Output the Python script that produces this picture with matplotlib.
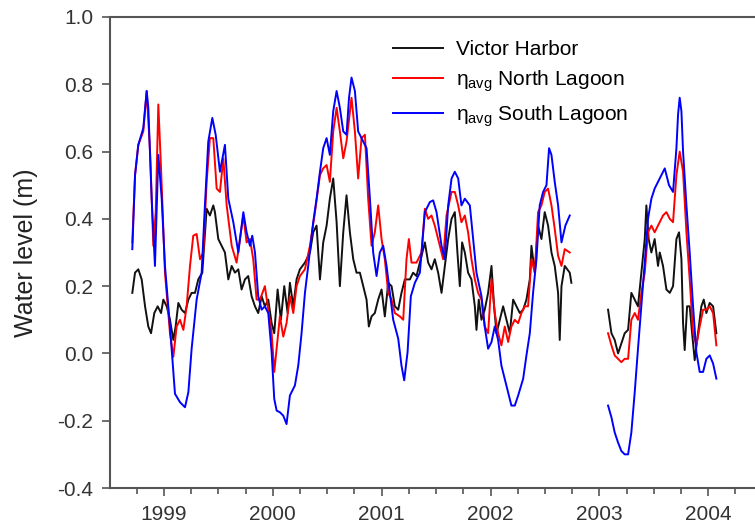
import numpy as np
import matplotlib
matplotlib.use("Agg")
import matplotlib.pyplot as plt
from matplotlib.ticker import MultipleLocator, FormatStrFormatter

plt.rcParams['font.family'] = ['Liberation Sans', 'DejaVu Sans']
plt.rcParams['mathtext.fontset'] = 'custom'
plt.rcParams['mathtext.rm'] = 'Liberation Sans'
plt.rcParams['mathtext.it'] = 'Liberation Sans'

nan = np.nan

# Victor Harbor (decimal year, water level in m)
vh_t = [1998.709, 1998.734, 1998.764, 1998.795, 1998.826, 1998.856, 1998.881, 1998.911, 1998.942, 1998.973,
        1998.994, 1999.025, 1999.055, 1999.086, 1999.107, 1999.132, 1999.162, 1999.193, 1999.224, 1999.254,
        1999.285, 1999.315, 1999.352, 1999.392, 1999.422, 1999.453, 1999.468, 1999.499, 1999.530, 1999.560,
        1999.591, 1999.622, 1999.652, 1999.683, 1999.713, 1999.744, 1999.774, 1999.805, 1999.836, 1999.866,
        1999.897, 1999.927, 1999.958, 1999.989, 2000.013, 2000.044, 2000.074, 2000.105, 2000.136, 2000.157,
        2000.188, 2000.218, 2000.249, 2000.295, 2000.341, 2000.371, 2000.402, 2000.433, 2000.463, 2000.494,
        2000.524, 2000.555, 2000.586, 2000.616, 2000.647, 2000.677, 2000.708, 2000.739, 2000.769, 2000.800,
        2000.830, 2000.861, 2000.882, 2000.907, 2000.937, 2000.968, 2000.999, 2001.029, 2001.060, 2001.091,
        2001.121, 2001.152, 2001.182, 2001.213, 2001.259, 2001.289, 2001.320, 2001.366, 2001.397, 2001.427,
        2001.458, 2001.488, 2001.519, 2001.550, 2001.580, 2001.611, 2001.642, 2001.672, 2001.696, 2001.718,
        2001.739, 2001.764, 2001.794, 2001.825, 2001.856, 2001.871, 2001.892, 2001.917, 2001.947, 2001.978,
        2002.009, 2002.033, 2002.055, 2002.085, 2002.116, 2002.146, 2002.177, 2002.208, 2002.238, 2002.269,
        2002.300, 2002.330, 2002.361, 2002.376, 2002.407, 2002.437, 2002.468, 2002.498, 2002.529, 2002.560,
        2002.590, 2002.621, 2002.636, 2002.652, 2002.682, 2002.728, 2002.743,
        2002.9,
        2003.080, 2003.111, 2003.141, 2003.172, 2003.202, 2003.233, 2003.264, 2003.294, 2003.325, 2003.355,
        2003.386, 2003.417, 2003.432, 2003.453, 2003.478, 2003.508, 2003.539, 2003.555, 2003.585, 2003.616,
        2003.647, 2003.677, 2003.708, 2003.732, 2003.754, 2003.769, 2003.784, 2003.806, 2003.830, 2003.852,
        2003.876, 2003.907, 2003.937, 2003.959, 2003.983, 2004.014, 2004.045, 2004.075]
vh_v = [0.18, 0.24, 0.25, 0.22, 0.14, 0.08, 0.06, 0.12, 0.14, 0.12,
        0.16, 0.14, 0.10, 0.04, 0.08, 0.15, 0.13, 0.12, 0.16, 0.18,
        0.18, 0.22, 0.24, 0.43, 0.41, 0.44, 0.42, 0.34, 0.32, 0.30,
        0.22, 0.26, 0.24, 0.25, 0.19, 0.22, 0.23, 0.17, 0.14, 0.12,
        0.17, 0.14, 0.16, 0.09, 0.06, 0.19, 0.10, 0.20, 0.12, 0.21,
        0.14, 0.22, 0.25, 0.27, 0.30, 0.36, 0.38, 0.22, 0.33, 0.38,
        0.46, 0.52, 0.39, 0.20, 0.36, 0.47, 0.36, 0.28, 0.24, 0.24,
        0.20, 0.16, 0.08, 0.11, 0.12, 0.16, 0.19, 0.11, 0.21, 0.20,
        0.14, 0.13, 0.18, 0.22, 0.22, 0.24, 0.23, 0.29, 0.33, 0.27,
        0.25, 0.28, 0.24, 0.18, 0.26, 0.34, 0.40, 0.42, 0.30, 0.20,
        0.33, 0.30, 0.24, 0.22, 0.14, 0.07, 0.16, 0.10, 0.13, 0.18,
        0.26, 0.14, 0.06, 0.10, 0.14, 0.10, 0.06, 0.16, 0.14, 0.12,
        0.13, 0.16, 0.22, 0.32, 0.24, 0.38, 0.34, 0.42, 0.38, 0.30,
        0.26, 0.18, 0.04, 0.20, 0.26, 0.24, 0.21,
        nan,
        0.13, 0.06, 0.04, 0.00, 0.03, 0.06, 0.07, 0.18, 0.16, 0.14,
        0.24, 0.34, 0.44, 0.34, 0.30, 0.34, 0.26, 0.30, 0.26, 0.19,
        0.18, 0.20, 0.34, 0.36, 0.28, 0.09, 0.01, 0.14, 0.14, 0.06,
        -0.02, 0.06, 0.14, 0.16, 0.12, 0.15, 0.14, 0.06]

# eta_avg North Lagoon
nl_t = [1998.709, 1998.734, 1998.764, 1998.810, 1998.841, 1998.872, 1998.902, 1998.924, 1998.948, 1998.973,
        1999.009, 1999.055, 1999.086, 1999.116, 1999.147, 1999.178, 1999.208, 1999.239, 1999.269, 1999.300,
        1999.331, 1999.361, 1999.392, 1999.422, 1999.453, 1999.484, 1999.514, 1999.545, 1999.576, 1999.622,
        1999.667, 1999.729, 1999.759, 1999.790, 1999.820, 1999.851, 1999.882, 1999.927, 1999.958, 1999.989,
        2000.013, 2000.035, 2000.065, 2000.096, 2000.126, 2000.157, 2000.188, 2000.218, 2000.249, 2000.295,
        2000.341, 2000.387, 2000.433, 2000.463, 2000.494, 2000.524, 2000.555, 2000.586, 2000.616, 2000.647,
        2000.677, 2000.723, 2000.754, 2000.784, 2000.815, 2000.846, 2000.876, 2000.907, 2000.937, 2000.968,
        2000.999, 2001.029, 2001.060, 2001.091, 2001.121, 2001.167, 2001.198, 2001.228, 2001.250, 2001.274,
        2001.320, 2001.366, 2001.397, 2001.427, 2001.458, 2001.488, 2001.534, 2001.565, 2001.596, 2001.642,
        2001.672, 2001.703, 2001.733, 2001.764, 2001.794, 2001.825, 2001.856, 2001.886, 2001.917, 2001.947,
        2001.978, 2002.009, 2002.039, 2002.070, 2002.100, 2002.131, 2002.162, 2002.192, 2002.223, 2002.254,
        2002.284, 2002.315, 2002.345, 2002.376, 2002.407, 2002.437, 2002.468, 2002.498, 2002.529, 2002.560,
        2002.590, 2002.621, 2002.652, 2002.682, 2002.728,
        2002.9,
        2003.080, 2003.111, 2003.141, 2003.172, 2003.202, 2003.233, 2003.264, 2003.294, 2003.325, 2003.355,
        2003.386, 2003.417, 2003.447, 2003.478, 2003.508, 2003.554, 2003.585, 2003.616, 2003.647, 2003.677,
        2003.708, 2003.738, 2003.769, 2003.800, 2003.830, 2003.861, 2003.891, 2003.922, 2003.953, 2003.983,
        2004.014, 2004.045, 2004.075]
nl_v = [0.33, 0.53, 0.62, 0.66, 0.78, 0.60, 0.32, 0.42, 0.74, 0.55,
        0.24, 0.06, -0.01, 0.08, 0.10, 0.07, 0.14, 0.26, 0.35, 0.355,
        0.28, 0.30, 0.51, 0.64, 0.64, 0.49, 0.48, 0.58, 0.44, 0.32,
        0.27, 0.41, 0.33, 0.34, 0.28, 0.16, 0.16, 0.20, 0.13, 0.06,
        -0.055, 0.014, 0.11, 0.05, 0.09, 0.17, 0.12, 0.20, 0.23, 0.25,
        0.32, 0.42, 0.53, 0.55, 0.56, 0.51, 0.66, 0.73, 0.66, 0.58,
        0.63, 0.76, 0.66, 0.52, 0.64, 0.65, 0.46, 0.32, 0.36, 0.44,
        0.34, 0.28, 0.18, 0.16, 0.12, 0.11, 0.10, 0.28, 0.34, 0.27,
        0.27, 0.30, 0.43, 0.40, 0.41, 0.38, 0.32, 0.28, 0.41, 0.48,
        0.48, 0.44, 0.39, 0.41, 0.36, 0.28, 0.22, 0.18, 0.16, 0.08,
        0.06, 0.22, 0.12, 0.06, 0.024, 0.08, 0.034, 0.08, 0.10, 0.09,
        0.12, 0.14, 0.14, 0.28, 0.24, 0.42, 0.44, 0.48, 0.49, 0.44,
        0.37, 0.29, 0.26, 0.31, 0.30,
        nan,
        0.06, 0.024, -0.006, -0.016, -0.026, -0.016, -0.016, 0.10, 0.12, 0.10,
        0.18, 0.24, 0.36, 0.38, 0.36, 0.39, 0.41, 0.42, 0.40, 0.39,
        0.53, 0.60, 0.54, 0.36, 0.22, 0.06, 0.024, 0.08, 0.13, 0.13,
        0.14, 0.12, 0.024]

# eta_avg South Lagoon
sl_t = [1998.709, 1998.734, 1998.764, 1998.810, 1998.841, 1998.856, 1998.887, 1998.917, 1998.948, 1998.979,
        1999.009, 1999.055, 1999.101, 1999.147, 1999.193, 1999.224, 1999.254, 1999.300, 1999.346, 1999.376,
        1999.407, 1999.444, 1999.475, 1999.514, 1999.560, 1999.591, 1999.637, 1999.683, 1999.729, 1999.759,
        1999.790, 1999.811, 1999.836, 1999.866, 1999.897, 1999.927, 1999.958, 1999.989, 2000.013, 2000.035,
        2000.065, 2000.096, 2000.126, 2000.157, 2000.203, 2000.234, 2000.264, 2000.295, 2000.325, 2000.371,
        2000.402, 2000.433, 2000.463, 2000.494, 2000.524, 2000.555, 2000.586, 2000.616, 2000.647, 2000.677,
        2000.700, 2000.723, 2000.754, 2000.784, 2000.830, 2000.861, 2000.892, 2000.922, 2000.953, 2000.983,
        2001.014, 2001.045, 2001.075, 2001.106, 2001.152, 2001.182, 2001.207, 2001.238, 2001.268, 2001.305,
        2001.351, 2001.397, 2001.443, 2001.473, 2001.504, 2001.550, 2001.580, 2001.611, 2001.642, 2001.672,
        2001.703, 2001.733, 2001.764, 2001.810, 2001.840, 2001.871, 2001.917, 2001.947, 2001.978, 2002.009,
        2002.039, 2002.070, 2002.100, 2002.146, 2002.192, 2002.223, 2002.254, 2002.300, 2002.330, 2002.361,
        2002.391, 2002.422, 2002.452, 2002.483, 2002.514, 2002.538, 2002.560, 2002.590, 2002.621, 2002.652,
        2002.688, 2002.728,
        2002.9,
        2003.080, 2003.111, 2003.141, 2003.172, 2003.202, 2003.233, 2003.264, 2003.294, 2003.325, 2003.355,
        2003.386, 2003.417, 2003.447, 2003.478, 2003.508, 2003.555, 2003.601, 2003.640, 2003.677, 2003.708,
        2003.723, 2003.738, 2003.754, 2003.769, 2003.800, 2003.830, 2003.861, 2003.891, 2003.922, 2003.953,
        2003.983, 2004.014, 2004.045, 2004.075]
sl_v = [0.31, 0.53, 0.62, 0.67, 0.78, 0.73, 0.46, 0.26, 0.59, 0.46,
        0.26, 0.08, -0.12, -0.145, -0.16, -0.115, 0.014, 0.16, 0.24, 0.44,
        0.63, 0.70, 0.65, 0.54, 0.62, 0.46, 0.39, 0.30, 0.42, 0.36,
        0.32, 0.35, 0.30, 0.17, 0.13, 0.14, 0.12, 0.004, -0.135, -0.17,
        -0.175, -0.185, -0.21, -0.125, -0.095, -0.035, 0.06, 0.18, 0.26, 0.39,
        0.46, 0.54, 0.61, 0.64, 0.59, 0.72, 0.78, 0.73, 0.66, 0.65,
        0.76, 0.82, 0.78, 0.66, 0.63, 0.61, 0.46, 0.30, 0.23, 0.30,
        0.32, 0.26, 0.18, 0.10, 0.044, -0.036, -0.08, 0.004, 0.17, 0.21,
        0.24, 0.42, 0.45, 0.455, 0.42, 0.32, 0.28, 0.44, 0.52, 0.54,
        0.52, 0.44, 0.46, 0.44, 0.34, 0.24, 0.17, 0.08, 0.014, 0.034,
        0.08, 0.04, -0.036, -0.095, -0.155, -0.155, -0.125, -0.075, -0.006, 0.06,
        0.18, 0.28, 0.44, 0.48, 0.50, 0.61, 0.59, 0.51, 0.44, 0.33,
        0.38, 0.41,
        nan,
        -0.155, -0.19, -0.235, -0.265, -0.29, -0.30, -0.30, -0.235, -0.115, 0.014,
        0.14, 0.27, 0.40, 0.46, 0.49, 0.52, 0.55, 0.50, 0.48, 0.61,
        0.71, 0.76, 0.72, 0.60, 0.44, 0.30, 0.14, 0.004, -0.055, -0.055,
        -0.016, -0.006, -0.03, -0.075]

fig = plt.figure(figsize=(7.55, 5.31), dpi=100)
ax = fig.add_axes([110 / 755, 43 / 531, 1 - 110 / 755, 471 / 531])

ax.plot(vh_t, vh_v, color='#111111', lw=1.4, label='Victor Harbor')
ax.plot(nl_t, nl_v, color='#ff0000', lw=1.4, label=r'$\eta_{avg}$ North Lagoon')
ax.plot(sl_t, sl_v, color='#0000ff', lw=1.4, label=r'$\eta_{avg}$ South Lagoon')

ax.set_xlim(1998.504, 2004.43)
ax.set_ylim(-0.4, 1.0)
ax.xaxis.set_major_locator(MultipleLocator(1))
ax.xaxis.set_minor_locator(MultipleLocator(0.25))
ax.xaxis.set_major_formatter(FormatStrFormatter('%d'))
ax.yaxis.set_major_locator(MultipleLocator(0.2))
ax.yaxis.set_major_formatter(FormatStrFormatter('%.1f'))

for s in ['left', 'bottom', 'top']:
    ax.spines[s].set_color('#555555')
    ax.spines[s].set_linewidth(1.5)
ax.spines['right'].set_visible(False)

ax.tick_params(axis='both', which='major', direction='out', length=6, width=1.2,
               color='#555555', labelsize=15, labelcolor='#333333', pad=6)
ax.tick_params(axis='x', which='minor', direction='out', length=4, width=1.2, color='#555555')

ax.set_ylabel('Water level (m)', fontsize=18, color='#222222', labelpad=14)

ax.legend(loc='upper left', bbox_to_anchor=(393 / 755, 1 - 40 / 531), bbox_transform=fig.transFigure,
          frameon=False, fontsize=15, handlelength=2.4, handletextpad=0.6, labelspacing=0.45,
          borderpad=0, borderaxespad=0)

fig.savefig('out.png', dpi=100)
